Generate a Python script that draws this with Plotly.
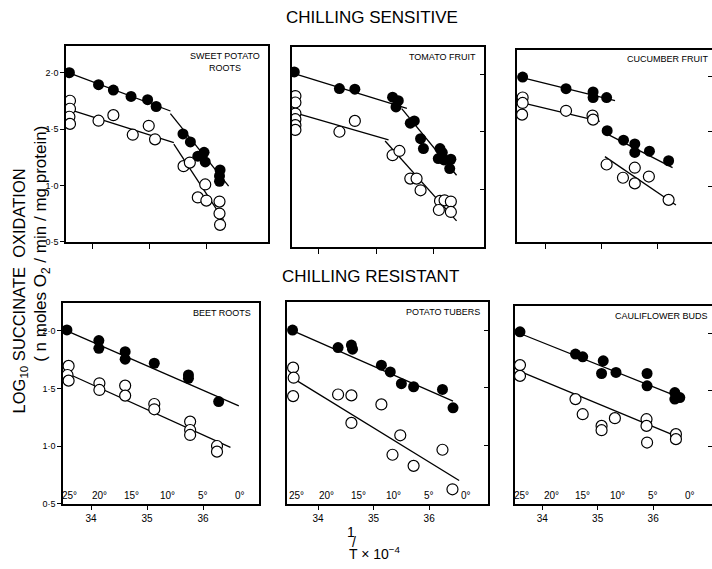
import plotly.graph_objects as go

# ---------------- data ----------------
# Sweet potato roots
sp_filled_x = [33.59, 34.10, 34.36, 34.67, 34.96, 35.11, 35.58, 35.71, 35.84, 35.95, 35.97, 36.23, 36.22, 36.22]
sp_filled_y = [2.00, 1.894, 1.846, 1.789, 1.76, 1.70, 1.457, 1.386, 1.26, 1.294, 1.209, 1.137, 1.085, 1.037]
sp_open_x = [33.60, 33.60, 33.59, 33.60, 34.10, 34.36, 34.70, 34.98, 35.09, 35.59, 35.70, 35.97, 35.84, 35.99, 36.22, 36.22, 36.23]
sp_open_y = [1.751, 1.68, 1.609, 1.546, 1.574, 1.623, 1.45, 1.529, 1.409, 1.171, 1.203, 1.009, 0.894, 0.866, 0.857, 0.751, 0.651]
sp_fit_filled_x = [33.57, 35.36, None, 35.36, 36.38]
sp_fit_filled_y = [2.00, 1.66, None, 1.637, 0.994]
sp_fit_open_x = [33.61, 35.42, None, 35.42, 36.29]
sp_fit_open_y = [1.671, 1.38, None, 1.366, 0.694]

# Tomato fruit
tf_filled_x = [33.57, 34.36, 34.63, 35.29, 35.39, 35.35, 35.60, 35.67, 35.78, 35.83, 36.12, 36.16, 36.09, 36.19, 36.31, 36.29]
tf_filled_y = [2.02, 1.875, 1.87, 1.80, 1.77, 1.716, 1.574, 1.594, 1.44, 1.354, 1.354, 1.319, 1.267, 1.255, 1.261, 1.18]
tf_open_x = [33.59, 33.59, 33.59, 33.59, 33.59, 33.59, 34.36, 34.63, 35.29, 35.41, 35.60, 35.71, 35.78, 36.12, 36.20, 36.31, 36.10, 36.31]
tf_open_y = [1.81, 1.754, 1.658, 1.609, 1.557, 1.516, 1.50, 1.594, 1.296, 1.333, 1.093, 1.093, 0.991, 0.899, 0.904, 0.893, 0.82, 0.803]
tf_fit_filled_x = [33.57, 35.54, None, 35.45, 36.41]
tf_fit_filled_y = [2.006, 1.704, None, 1.701, 1.122]
tf_fit_open_x = [33.63, 35.22, None, 35.16, 36.41]
tf_fit_open_y = [1.658, 1.429, None, 1.42, 0.725]

# Cucumber fruit
cf_filled_x = [33.60, 34.37, 34.85, 34.85, 35.09, 35.10, 35.39, 35.59, 35.59, 35.85, 36.19]
cf_filled_y = [1.991, 1.886, 1.857, 1.806, 1.806, 1.506, 1.42, 1.386, 1.309, 1.32, 1.234]
cf_open_x = [33.60, 33.60, 33.59, 34.37, 34.84, 34.85, 35.09, 35.38, 35.59, 35.59, 35.84, 36.19]
cf_open_y = [1.806, 1.757, 1.651, 1.686, 1.643, 1.606, 1.20, 1.08, 1.171, 1.029, 1.091, 0.88]
cf_fit_filled_x = [33.59, 35.24, None, 35.06, 36.26]
cf_fit_filled_y = [1.986, 1.777, None, 1.486, 1.171]
cf_fit_open_x = [33.60, 34.97, None, 35.06, 36.32]
cf_fit_open_y = [1.757, 1.591, None, 1.271, 0.834]

# Beet roots
br_filled_x = [33.57, 34.14, 34.14, 34.61, 34.61, 35.13, 35.74, 35.74, 36.28]
br_filled_y = [2.009, 1.916, 1.849, 1.82, 1.754, 1.719, 1.617, 1.588, 1.386]
br_open_x = [33.60, 33.58, 33.60, 34.15, 34.15, 34.61, 34.61, 35.13, 35.13, 35.77, 35.77, 35.77, 36.25, 36.25]
br_open_y = [1.696, 1.617, 1.568, 1.545, 1.487, 1.525, 1.438, 1.365, 1.319, 1.212, 1.139, 1.096, 1.00, 0.951]
br_fit_filled_x = [33.60, 36.64]
br_fit_filled_y = [1.994, 1.348]
br_fit_open_x = [33.64, 36.49]
br_fit_open_y = [1.617, 0.988]

# Potato tubers
pt_filled_x = [33.54, 34.36, 34.60, 34.62, 35.14, 35.30, 35.50, 35.72, 36.24, 36.43]
pt_filled_y = [2.00, 1.849, 1.87, 1.835, 1.696, 1.638, 1.536, 1.51, 1.487, 1.328]
pt_open_x = [33.55, 33.56, 33.55, 34.36, 34.60, 34.60, 35.14, 35.48, 35.34, 35.72, 36.24, 36.42]
pt_open_y = [1.675, 1.588, 1.429, 1.443, 1.435, 1.197, 1.357, 1.09, 0.922, 0.826, 0.965, 0.623]
pt_fit_filled_x = [33.58, 36.43]
pt_fit_filled_y = [1.986, 1.386]
pt_fit_open_x = [33.58, 36.54]
pt_fit_open_y = [1.574, 0.699]

# Cauliflower buds
cb_filled_x = [33.60, 34.60, 34.73, 35.10, 35.07, 35.33, 35.89, 35.89, 36.39, 36.39, 36.48]
cb_filled_y = [2.015, 1.818, 1.794, 1.759, 1.647, 1.656, 1.647, 1.538, 1.479, 1.421, 1.435]
cb_open_x = [33.60, 33.60, 34.60, 34.73, 35.07, 35.07, 35.31, 35.88, 35.88, 35.89, 36.41, 36.41]
cb_open_y = [1.721, 1.626, 1.421, 1.288, 1.185, 1.147, 1.253, 1.244, 1.185, 1.038, 1.112, 1.068]
cb_fit_filled_x = [33.60, 36.51]
cb_fit_filled_y = [2.00, 1.429]
cb_fit_open_x = [33.60, 36.51]
cb_fit_open_y = [1.665, 1.074]

panel_titles = ["SWEET POTATO<br>ROOTS", "TOMATO FRUIT", "CUCUMBER FRUIT",
                "BEET ROOTS", "POTATO TUBERS", "CAULIFLOWER BUDS"]
y_tick_vals = [0.5, 1.0, 1.5, 2.0]
y_tick_text = ["0·5", "1·0", "1·5", "2·0"]
x_tick_vals = [34, 35, 36]
x_tick_text = ["34", "35", "36"]
deg_labels = ["25°", "20°", "15°", "10°", "5°", "0°"]
deg_pos = [33.62, 34.16, 34.72, 35.36, 36.0, 36.66]

# ---------------- layout geometry (pixels) ----------------
W, H = 712, 569
FONT = "Liberation Sans"

panels = [
    dict(d=(sp_filled_x, sp_filled_y, sp_open_x, sp_open_y, sp_fit_filled_x, sp_fit_filled_y, sp_fit_open_x, sp_fit_open_y),
         px=(66, 268), py=(46, 244), xr=(33.53, 37.07), row=0, col=0),
    dict(d=(tf_filled_x, tf_filled_y, tf_open_x, tf_open_y, tf_fit_filled_x, tf_fit_filled_y, tf_fit_open_x, tf_fit_open_y),
         px=(292, 484), py=(47, 249), xr=(33.53, 36.89), row=0, col=1),
    dict(d=(cf_filled_x, cf_filled_y, cf_open_x, cf_open_y, cf_fit_filled_x, cf_fit_filled_y, cf_fit_open_x, cf_fit_open_y),
         px=(517, 712), py=(50, 244), xr=(33.50, 36.96), row=0, col=2),
    dict(d=(br_filled_x, br_filled_y, br_open_x, br_open_y, br_fit_filled_x, br_fit_filled_y, br_fit_open_x, br_fit_open_y),
         px=(63, 259), py=(306, 508), xr=(33.50, 37.00), row=1, col=0),
    dict(d=(pt_filled_x, pt_filled_y, pt_open_x, pt_open_y, pt_fit_filled_x, pt_fit_filled_y, pt_fit_open_x, pt_fit_open_y),
         px=(287, 488), py=(305, 508), xr=(33.44, 37.06), row=1, col=1),
    dict(d=(cb_filled_x, cb_filled_y, cb_open_x, cb_open_y, cb_fit_filled_x, cb_fit_filled_y, cb_fit_open_x, cb_fit_open_y),
         px=(515, 712), py=(309, 508), xr=(33.51, 37.06), row=1, col=2),
]

fig = go.Figure()
layout = dict(width=W, height=H, margin=dict(l=0, r=0, t=0, b=0),
              paper_bgcolor="white", plot_bgcolor="white", showlegend=False,
              font=dict(family=FONT, color="black"))
annotations = []

for i, p in enumerate(panels):
    n = "" if i == 0 else str(i + 1)
    xa, ya = "x" + n, "y" + n
    fx, fy, ox, oy, lfx, lfy, lox, loy = p["d"]
    fig.add_trace(go.Scatter(x=lfx, y=lfy, mode="lines", xaxis=xa, yaxis=ya,
                             line=dict(color="black", width=1.3), hoverinfo="skip"))
    fig.add_trace(go.Scatter(x=lox, y=loy, mode="lines", xaxis=xa, yaxis=ya,
                             line=dict(color="black", width=1.3), hoverinfo="skip"))
    fig.add_trace(go.Scatter(x=ox, y=oy, mode="markers", xaxis=xa, yaxis=ya,
                             marker=dict(symbol="circle", size=11, color="white",
                                         line=dict(color="black", width=1.2))))
    fig.add_trace(go.Scatter(x=fx, y=fy, mode="markers", xaxis=xa, yaxis=ya,
                             marker=dict(symbol="circle", size=11, color="black",
                                         line=dict(color="black", width=0))))

    x0, x1 = p["px"]
    y0, y1 = p["py"]
    bottom = p["row"] == 1
    left = p["col"] == 0
    layout["xaxis" + n] = dict(
        domain=[x0 / W, min(x1 / W, 1.0)], anchor=ya, range=list(p["xr"]),
        showgrid=False, zeroline=False, showline=True, linecolor="black", linewidth=1.5,
        mirror=True, ticks="outside", ticklen=5, tickwidth=1, tickcolor="black",
        tickvals=x_tick_vals, ticktext=x_tick_text, showticklabels=bottom,
        tickfont=dict(size=10, family=FONT))
    layout["yaxis" + n] = dict(
        domain=[1 - y1 / H, 1 - y0 / H], anchor=xa, range=[0.5, 2.24],
        showgrid=False, zeroline=False, showline=True, linecolor="black", linewidth=1.5,
        mirror=True, ticks="outside" if left else "inside", ticklen=4, tickwidth=1,
        tickcolor="black", side="left" if left else "right",
        tickvals=y_tick_vals, ticktext=y_tick_text, showticklabels=left,
        tickfont=dict(size=9, family=FONT))

    # panel title (top-right inside)
    annotations.append(dict(text=panel_titles[i], xref=xa + " domain", yref=ya + " domain",
                            x=0.97 if p["col"] < 2 else 0.99, y=0.985, xanchor="right", yanchor="top",
                            showarrow=False, align="center",
                            font=dict(size=9, family=FONT, color="black")))
    if bottom:
        for lab, xp in zip(deg_labels, deg_pos):
            annotations.append(dict(text=lab, x=xp, y=0.505, xref=xa, yref=ya,
                                    xanchor="center", yanchor="bottom", showarrow=False,
                                    font=dict(size=10, family=FONT, color="black")))


def paper_text(text, px, py, size, angle=0, xanchor="center"):
    return dict(text=text, x=px / W, y=1 - py / H, xref="paper", yref="paper",
                xanchor=xanchor, yanchor="middle", textangle=angle, showarrow=False,
                font=dict(size=size, family=FONT, color="black"))


# headings
annotations.append(paper_text("CHILLING SENSITIVE", 372, 18, 17))
annotations.append(paper_text("CHILLING RESISTANT", 370, 279, 17))
# y title (two rotated lines)
annotations.append(paper_text("LOG<sub>10</sub> SUCCINATE  OXIDATION", 20, 294, 16.5, angle=-90))
annotations.append(paper_text("( n moles O<sub>2</sub> / min / mg protein)", 42, 246, 17, angle=-90))
# x title  1/T x 10^-4
annotations.append(paper_text("1", 351, 537, 14))
annotations.append(paper_text("/", 354, 547, 14))
annotations.append(paper_text("T × 10<sup>−4</sup>", 347, 558, 14, xanchor="left"))

layout["annotations"] = annotations
fig.update_layout(**layout)
fig.write_html("out.html")
